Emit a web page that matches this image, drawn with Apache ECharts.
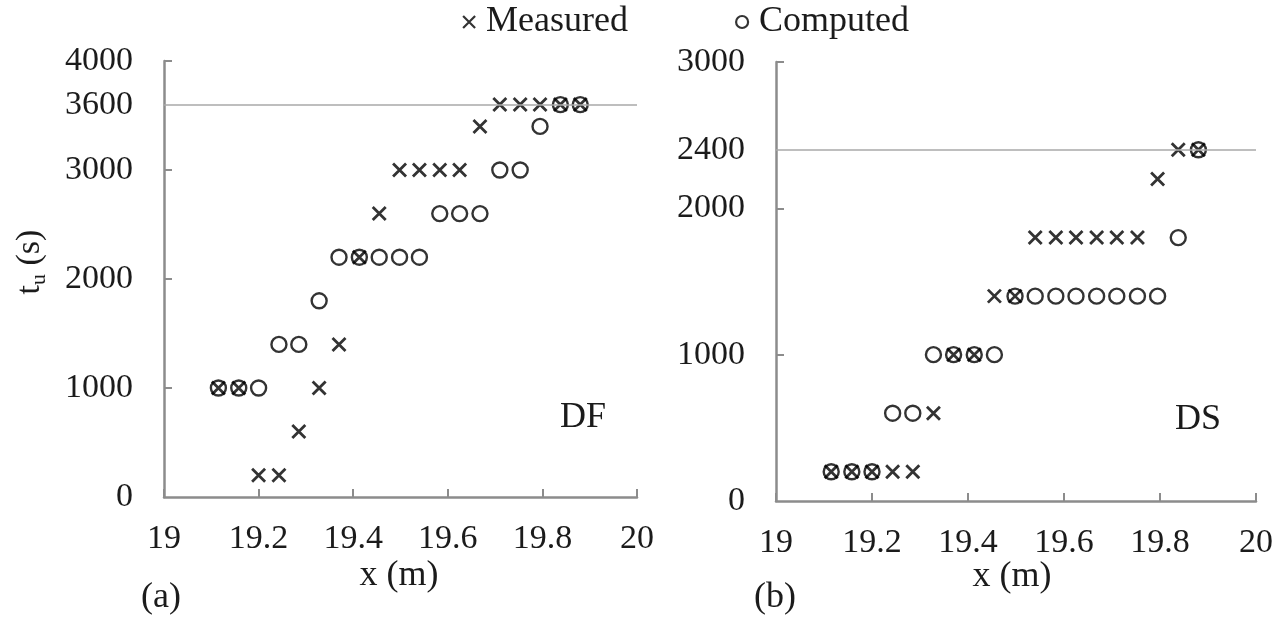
<!DOCTYPE html>
<html>
<head>
<meta charset="utf-8">
<script src="https://cdn.jsdelivr.net/npm/echarts@6/dist/echarts.min.js"></script>
<style>
  html, body { margin: 0; padding: 0; background: #fff; }
  #chart { width: 1285px; height: 619px; }
</style>
</head>
<body>
<div id="chart"></div>
<script>
// Sensor positions along the flume (m)
const xPos = [19.115, 19.158, 19.2, 19.243, 19.285, 19.328, 19.37, 19.413, 19.455, 19.498,
              19.54, 19.583, 19.625, 19.668, 19.71, 19.753, 19.795, 19.838, 19.88];

// (a) DF: arrival time t_u (s)
const dfMeasured = [1000, 1000, 200, 200, 600, 1000, 1400, 2200, 2600, 3000,
                    3000, 3000, 3000, 3400, 3600, 3600, 3600, 3600, 3600];
const dfComputed = [1000, 1000, 1000, 1400, 1400, 1800, 2200, 2200, 2200, 2200,
                    2200, 2600, 2600, 2600, 3000, 3000, 3400, 3600, 3600];

// (b) DS: arrival time t_u (s)
const dsMeasured = [200, 200, 200, 200, 200, 600, 1000, 1000, 1400, 1400,
                    1800, 1800, 1800, 1800, 1800, 1800, 2200, 2400, 2400];
const dsComputed = [200, 200, 200, 600, 600, 1000, 1000, 1000, 1000, 1400,
                    1400, 1400, 1400, 1400, 1400, 1400, 1400, 1800, 2400];

// Axis labels, ticks and reference lines
const dfLabelValues = [0, 1000, 2000, 3000, 3600, 4000];
const dfTickValues = [1000, 2000, 3000, 4000];
const dfRefLine = 3600;
const dsLabelValues = [0, 1000, 2000, 2400, 3000];
const dsTickValues = [1000, 2000, 3000];
const dsRefLine = 2400;

const FONT = 'Liberation Serif';
const TXT = '#1b1b1b';
const AXIS = '#8c8c8c';
const CROSS = 'path://M0,0L10,10M10,0L0,10';
const TICK_FS = 34;
const NAME_FS = 36;

const pairs = (ys) => xPos.map((x, i) => [x, ys[i]]);

function xAxisCfg(gridIndex) {
  return {
    type: 'value', gridIndex, min: 19, max: 20, interval: 0.2,
    axisLine: { show: true, lineStyle: { color: AXIS, width: 2.5 } },
    axisTick: { show: true, inside: true, length: 8, lineStyle: { color: AXIS, width: 2 } },
    axisLabel: {
      margin: 25, color: TXT, fontFamily: FONT, fontSize: TICK_FS,
      formatter: (v) => String(Math.round(v * 10) / 10)
    },
    splitLine: { show: false }
  };
}

function yAxisCfg(gridIndex, max, labels, ticks) {
  return {
    type: 'value', gridIndex, min: 0, max,
    axisLine: { show: true, lineStyle: { color: AXIS, width: 2.5 } },
    axisTick: { show: true, inside: true, length: 8, customValues: ticks,
                lineStyle: { color: AXIS, width: 2 } },
    axisLabel: { margin: 31, color: TXT, fontFamily: FONT, fontSize: TICK_FS, customValues: labels,
                 formatter: (v) => String(v) },
    splitLine: { show: false }
  };
}

function refLine(value) {
  return {
    silent: true, symbol: 'none', animation: false,
    label: { show: false },
    lineStyle: { color: '#a8a8a8', width: 1.6, type: 'solid' },
    data: [{ yAxis: value }]
  };
}

function circles(idx, ys, extra) {
  return Object.assign({
    name: 'Computed', type: 'scatter', xAxisIndex: idx, yAxisIndex: idx,
    data: pairs(ys), symbol: 'circle', symbolSize: 15,
    itemStyle: { color: 'rgba(255,255,255,0)', borderColor: '#000', borderWidth: 2.4 },
    z: 3
  }, extra || {});
}

function crosses(idx, ys) {
  return {
    name: 'Measured', type: 'scatter', xAxisIndex: idx, yAxisIndex: idx,
    data: pairs(ys), symbol: CROSS, symbolSize: 13,
    itemStyle: { color: 'rgba(255,255,255,0)', borderColor: '#000', borderWidth: 2.8 },
    z: 4
  };
}

function caption(text, x, y, fs) {
  return { type: 'text', x, y,
           style: { text, fontFamily: FONT, fontSize: fs || NAME_FS, fill: TXT,
                    align: 'center', verticalAlign: 'middle' } };
}

const chart = echarts.init(document.getElementById('chart'), null, { renderer: 'canvas' });

chart.setOption({
  animation: false,
  backgroundColor: '#fff',
  grid: [
    { left: 164, right: 648, top: 61, bottom: 122 },
    { left: 776, right: 29, top: 62, bottom: 118 }
  ],
  legend: [
    {
      left: 462, top: 4, padding: 0, itemWidth: 12, itemHeight: 12, selectedMode: false,
      textStyle: { fontFamily: FONT, fontSize: NAME_FS, color: TXT, padding: [0, 0, 0, 6] },
      data: [{ name: 'Measured', icon: CROSS,
               itemStyle: { color: 'rgba(255,255,255,0)', borderColor: '#000', borderWidth: 2.2 } }]
    },
    {
      left: 735, top: 4, padding: 0, itemWidth: 12, itemHeight: 12, selectedMode: false,
      textStyle: { fontFamily: FONT, fontSize: NAME_FS, color: TXT, padding: [0, 0, 0, 6] },
      data: [{ name: 'Computed', icon: 'circle',
               itemStyle: { color: 'rgba(255,255,255,0)', borderColor: '#000', borderWidth: 2.2 } }]
    }
  ],
  xAxis: [xAxisCfg(0), xAxisCfg(1)],
  yAxis: [
    yAxisCfg(0, 4000, dfLabelValues, dfTickValues),
    yAxisCfg(1, 3000, dsLabelValues, dsTickValues)
  ],
  series: [
    circles(0, dfComputed, { markLine: refLine(dfRefLine) }),
    crosses(0, dfMeasured),
    circles(1, dsComputed, { markLine: refLine(dsRefLine) }),
    crosses(1, dsMeasured)
  ],
  graphic: [
    {
      type: 'text', x: 30, y: 262, rotation: Math.PI / 2,
      style: {
        text: '{t|t}{u|u}{s| (s)}', align: 'center', verticalAlign: 'middle',
        rich: {
          t: { fontFamily: FONT, fontSize: 34, fill: TXT, lineHeight: 40, verticalAlign: 'middle' },
          u: { fontFamily: FONT, fontSize: 22, fill: TXT, lineHeight: 40, verticalAlign: 'bottom' },
          s: { fontFamily: FONT, fontSize: 34, fill: TXT, lineHeight: 40, verticalAlign: 'middle' }
        }
      }
    },
    caption('x (m)', 399, 576),
    caption('x (m)', 1012, 577),
    caption('(a)', 161, 598),
    caption('(b)', 775, 598),
    caption('DF', 583, 418),
    caption('DS', 1198, 420)
  ]
});
</script>
</body>
</html>
